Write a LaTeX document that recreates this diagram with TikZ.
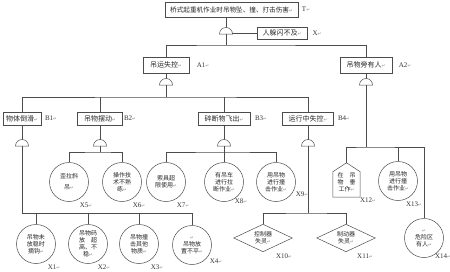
\documentclass[tikz,border=0pt]{standalone}
\usepackage{fontspec}
\setmainfont{Liberation Serif}
\newfontfamily\cjk{Noto Sans CJK SC}
\newfontfamily\dejavu{DejaVu Sans}
\usetikzlibrary{calc}
\newcommand{\rt}{{\dejavu\fontsize{4.5}{5}\selectfont\textcolor{black!45}{↵}}}
\tikzset{
  ln/.style={draw=black!70, line width=0.5pt},
  box/.style={draw=black!70, line width=0.5pt, rectangle, inner sep=0pt, minimum height=16pt, text=black!85, font=\cjk\fontsize{7}{8}\selectfont},
  bbox/.style={box, minimum height=13pt},
  evt/.style={circle, draw=black!70, line width=0.5pt, minimum size=39pt, inner sep=0pt, align=center, text=black!85, font=\cjk\fontsize{6}{7}\selectfont},
  plain/.style={rectangle, inner sep=0pt, align=center, text=black!85, font=\cjk\fontsize{6}{7}\selectfont},
  lbl/.style={font=\fontsize{7}{8}\selectfont, inner sep=0pt, text=black!80},
  gate/.pic={\draw[ln, fill=white] (-6.5pt,0pt) arc[start angle=180,end angle=0,radius=6.5pt] -- cycle;}
}
\begin{document}
\begin{tikzpicture}[x=1pt, y=-1pt]
\useasboundingbox (0,0) rectangle (450,271);

% top event
\node[box, minimum width=133pt, minimum height=15pt, font=\cjk\fontsize{6.6}{7}\selectfont] (T) at (231.5,9.5) {桥式起重机作业时吊物坠、撞、打击伤害\rt};
\node[lbl] (Tl) at (306,9) {T\rt};
\coordinate (g0) at (226,34);
\coordinate (g0t) at (226,27.5);
\coordinate (g0e) at (232.4,33);
\draw[ln] (T.south -| g0t) -- (g0t);
\pic at (g0) {gate};
\node[box, minimum width=50pt, minimum height=12pt] (X) at (282,33) {人躲闪不及\rt};
\node[lbl] (Xl) at (317,33) {X\rt};
\draw[ln] (X.west) -- (X.west -| g0e);

% A level
\node[box, minimum width=46pt] (A1) at (166,65) {吊运失控\rt};
\node[lbl] (A1l) at (203,65) {A1\rt};
\node[box, minimum width=52pt] (A2) at (366,65) {吊物旁有人\rt};
\node[lbl] (A2l) at (405,65) {A2\rt};
\coordinate (h0) at (226,45);
\draw[ln] (g0) -- (h0);
\draw[ln] (A1.north) |- (h0) -| (A2.north);

% gate under A1
\coordinate (ga1) at (166,85);
\coordinate (ga1t) at (166,78.5);
\draw[ln] (A1.south) -- (ga1t);
\pic at (ga1) {gate};
\coordinate (h1) at (166,97);
\draw[ln] (ga1) -- (h1);

% B level
\node[bbox, minimum width=38pt] (B1) at (22,118.5) {物体倒滑\rt};
\node[lbl] (B1l) at (51,118.5) {B1\rt};
\node[bbox, minimum width=45pt] (B2) at (100,118.5) {吊物摆动\rt};
\node[lbl] (B2l) at (130,118.5) {B2\rt};
\node[bbox, minimum width=52pt] (B3) at (224,118.5) {碎断物飞出\rt};
\node[lbl] (B3l) at (261,118.5) {B3\rt};
\node[bbox, minimum width=51pt] (B4) at (308,118.5) {运行中失控\rt};
\node[lbl] (B4l) at (344,118.5) {B4\rt};
\draw[ln] (B1.north) |- (h1) -| (B4.north);
\draw[ln] (B2.north) -- (B2.north |- h1);
\draw[ln] (B3.north) -- (B3.north |- h1);

% gates under B
\coordinate (gb1) at (22,146);  \coordinate (gb1t) at (22,139.5);
\coordinate (gb2) at (100,146); \coordinate (gb2t) at (100,139.5);
\coordinate (gb3) at (224,146); \coordinate (gb3t) at (224,139.5);
\coordinate (gb4) at (308,146); \coordinate (gb4t) at (308,139.5);
\draw[ln] (B1.south) -- (gb1t);
\draw[ln] (B2.south) -- (gb2t);
\draw[ln] (B3.south) -- (gb3t);
\draw[ln] (B4.south) -- (gb4t);
\pic at (gb1) {gate};
\pic at (gb2) {gate};
\pic at (gb3) {gate};
\pic at (gb4) {gate};

% B1 children
\node[evt] (X1) at (36,244) {吊物未\\放稳时\\摘钩\rt};
\node[evt] (X2) at (88,244) {吊物码\\放　超\\高、不\\稳\rt};
\node[evt] (X3) at (139,244) {吊物撞\\击其他\\物质\rt};
\node[evt] (X4) at (192,245) {\rt\\吊物放\\置不平\rt};
\node[lbl] (X1l) at (54,267) {X1\rt};
\node[lbl] (X2l) at (104,267) {X2\rt};
\node[lbl] (X3l) at (157,267) {X3\rt};
\node[lbl] (X4l) at (216,261) {X4\rt};
\coordinate (h2) at (22,213);
\draw[ln] (gb1) -- (h2) -| (X4.north);
\draw[ln] (X1.north) -- (X1.north |- h2);
\draw[ln] (X2.north) -- (X2.north |- h2);
\draw[ln] (X3.north) -- (X3.north |- h2);

% B2 children
\node[evt] (X5) at (69,182) {歪拉斜\\[4pt]吊\rt};
\node[evt] (X6) at (122,182) {操作技\\术不熟\\练\rt};
\node[lbl] (X5l) at (86,205) {X5\rt};
\node[lbl] (X6l) at (139,205) {X6\rt};
\coordinate (h3) at (100,152);
\draw[ln] (gb2) -- (h3);
\draw[ln] (X5.north) |- (h3) -| (X6.north);

% B3 children
\node[evt] (X7) at (166,182) {索具超\\限使用\rt};
\node[evt] (X8) at (224,182) {有吊车\\进行拉\\断作业\rt};
\node[evt] (X9) at (276,182) {用吊物\\进行撞\\击作业\rt};
\node[lbl] (X7l) at (183,205) {X7\rt};
\node[lbl] (X8l) at (241,201) {X8\rt};
\node[lbl] (X9l) at (302,194) {X9\rt};
\coordinate (h4) at (224,152);
\draw[ln] (gb3) -- (h4);
\draw[ln] (X7.north) |- (h4) -| (X9.north);
\draw[ln] (X8.north) -- (X8.north |- h4);

% B4 children
\node[plain, minimum width=58pt, minimum height=27pt] (X10) at (263,238) {控制器\\失灵\rt};
\node[plain, minimum width=58pt, minimum height=27pt] (X11) at (346,238) {制动器\\失灵\rt};
\draw[ln] (X10.west) -- (X10.north) -- (X10.east) -- (X10.south) -- cycle;
\draw[ln] (X11.west) -- (X11.north) -- (X11.east) -- (X11.south) -- cycle;
\node[lbl] (X10l) at (284,256) {X10\rt};
\node[lbl] (X11l) at (365,256) {X11\rt};
\coordinate (h5) at (308,213);
\draw[ln] (gb4) -- (h5);
\draw[ln] (X10.north) |- (h5) -| (X11.north);

% A2 children
\coordinate (ga2) at (366,85);
\coordinate (ga2t) at (366,78.5);
\draw[ln] (A2.south) -- (ga2t);
\pic at (ga2) {gate};
\node[plain, minimum width=27pt, minimum height=34pt, text depth=0pt] (X12) at (346.5,180) {};
\node[plain] (X12t) at (346.5,182) {在　吊\\物　垂\\工作\rt};
\draw[ln] (X12.south west) -- ($(X12.north west)!0.26!(X12.south west)$) -- (X12.north)
  -- ($(X12.north east)!0.26!(X12.south east)$) -- (X12.south east) -- cycle;
\node[evt] (X13) at (398,181) {用吊物\\进行撞\\击作业\rt};
\node[evt] (X14) at (424,238) {\rt\\危险区\\有人\rt};
\node[lbl] (X12l) at (368,200) {X12\rt};
\node[lbl] (X13l) at (414,204) {X13\rt};
\node[lbl] (X14l) at (443,256) {X14\rt};
\coordinate (h6) at (366,147);
\draw[ln] (ga2) -- (h6);
\draw[ln] (X12.north) |- (h6) -| (X14.north);
\draw[ln] (X13.north) -- (X13.north |- h6);
\end{tikzpicture}
\end{document}
